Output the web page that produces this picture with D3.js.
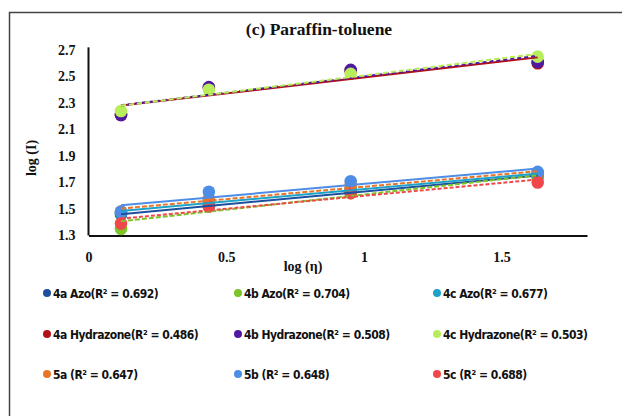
<!DOCTYPE html>
<html>
<head>
<meta charset="utf-8">
<script src="https://cdn.jsdelivr.net/npm/d3@7"></script>
<style>
  html, body { margin: 0; padding: 0; background: #fff; }
  svg { display: block; }
  .serif { font-family: "Liberation Serif", "Times New Roman", serif; font-weight: bold; fill: #111; }
  .legend text { font-family: "DejaVu Sans Condensed", "Liberation Sans Narrow", "Arial Narrow", sans-serif; font-weight: bold; font-size: 12px; letter-spacing: -0.5px; fill: #111; }
</style>
</head>
<body>
<svg id="chart" width="622" height="416"></svg>
<script>
// log(η) positions shared by every series
const logEta = [0.118, 0.437, 0.952, 1.631];

// log(I) values per series
const azo4a = [1.46, 1.52, 1.63, 1.75];
const azo4b = [1.35, 1.54, 1.62, 1.73];
const azo4c = [1.47, 1.56, 1.65, 1.76];
const hyd4a = [2.21, 2.415, 2.54, 2.60];
const hyd4b = [2.21, 2.42, 2.55, 2.61];
const hyd4c = [2.24, 2.40, 2.52, 2.65];
const s5a = [1.48, 1.58, 1.68, 1.77];
const s5b = [1.48, 1.63, 1.71, 1.78];
const s5c = [1.39, 1.52, 1.62, 1.70];

const seriesNames = [
  "4a Azo(R² = 0.692)", "4b Azo(R² = 0.704)", "4c Azo(R² = 0.677)",
  "4a Hydrazone(R² = 0.486)", "4b Hydrazone(R² = 0.508)", "4c Hydrazone(R² = 0.503)",
  "5a (R² = 0.647)", "5b (R² = 0.648)", "5c (R² = 0.688)"
];
const seriesValues = [azo4a, azo4b, azo4c, hyd4a, hyd4b, hyd4c, s5a, s5b, s5c];
const seriesColors = ["#1d4f9e", "#7cc428", "#1ea3c8", "#b1121a", "#4f1aa0", "#b8ee5c", "#e8762a", "#4d8de6", "#f0474a"];

const yTicks = [1.3, 1.5, 1.7, 1.9, 2.1, 2.3, 2.5, 2.7];
const xTicks = [0, 0.5, 1, 1.5];

const svg = d3.select("#chart");

// outer frame
svg.append("rect")
  .attr("x", 9.5).attr("y", 12.5).attr("width", 640).attr("height", 430)
  .attr("fill", "none").attr("stroke", "#444").attr("stroke-width", 1.5);

const x = d3.scaleLinear().domain([0, 1.81]).range([88.5, 587]);
const y = d3.scaleLinear().domain([1.3, 2.7]).range([235.5, 50]);

// title
svg.append("text").attr("class", "serif")
  .attr("x", 319).attr("y", 35).attr("text-anchor", "middle")
  .attr("font-size", 17.5).text("(c) Paraffin-toluene");

// axes
const yAxis = svg.append("g").attr("transform", "translate(88.5,0)")
  .call(d3.axisLeft(y).tickValues(yTicks).tickSize(0).tickPadding(13).tickFormat(d3.format(".1f")));
const xAxis = svg.append("g").attr("transform", "translate(0,235.5)")
  .call(d3.axisBottom(x).tickValues(xTicks).tickSize(0).tickPadding(17).tickFormat(d3.format("")));
[yAxis, xAxis].forEach(g => {
  g.select(".domain").attr("stroke", "#111").attr("stroke-width", 2);
  g.selectAll("text").attr("class", "serif").attr("font-size", 14)
    .style("font-family", "'Liberation Serif', 'Times New Roman', serif").style("font-weight", "bold");
});
yAxis.select(".domain").attr("d", `M0,${y(2.72)}V${y(1.3)}`);

// axis titles
svg.append("text").attr("class", "serif").attr("font-size", 14)
  .attr("text-anchor", "middle")
  .attr("transform", "translate(36,158) rotate(-90)").text("log (I)");
svg.append("text").attr("class", "serif").attr("font-size", 14)
  .attr("text-anchor", "middle").attr("x", 303).attr("y", 271).text("log (η)");

// markers
const plot = svg.append("g");
seriesValues.forEach((vals, i) => {
  plot.selectAll(null).data(vals).enter().append("circle")
    .attr("cx", (d, j) => x(logEta[j])).attr("cy", d => y(d))
    .attr("r", 6.3).attr("fill", seriesColors[i]);
});

// linear trendlines (least squares)
function fit(xs, ys) {
  const mx = d3.mean(xs), my = d3.mean(ys);
  let sxy = 0, sxx = 0;
  xs.forEach((v, k) => { sxy += (v - mx) * (ys[k] - my); sxx += (v - mx) ** 2; });
  const b = sxy / sxx;
  return { a: my - b * mx, b };
}
const dashes = ["none", "5,2", "none", "none", "4,3", "5,3", "5,2", "none", "4,2"];
seriesValues.forEach((vals, i) => {
  const f = fit(logEta, vals);
  const x0 = d3.min(logEta), x1 = d3.max(logEta);
  plot.append("line")
    .attr("x1", x(x0)).attr("y1", y(f.a + f.b * x0))
    .attr("x2", x(x1)).attr("y2", y(f.a + f.b * x1))
    .attr("stroke", seriesColors[i]).attr("stroke-width", 2)
    .attr("stroke-dasharray", dashes[i]);
});

// legend, three columns by three rows
const legCols = [47, 238, 437];
const legRows = [293, 334, 374];
const legend = svg.append("g").attr("class", "legend");
seriesNames.forEach((name, i) => {
  const cx = legCols[i % 3], cy = legRows[Math.floor(i / 3)];
  legend.append("circle").attr("cx", cx).attr("cy", cy).attr("r", 4).attr("fill", seriesColors[i]);
  legend.append("text").attr("x", cx + 6).attr("y", cy + 4.5).text(name);
});
</script>
</body>
</html>
